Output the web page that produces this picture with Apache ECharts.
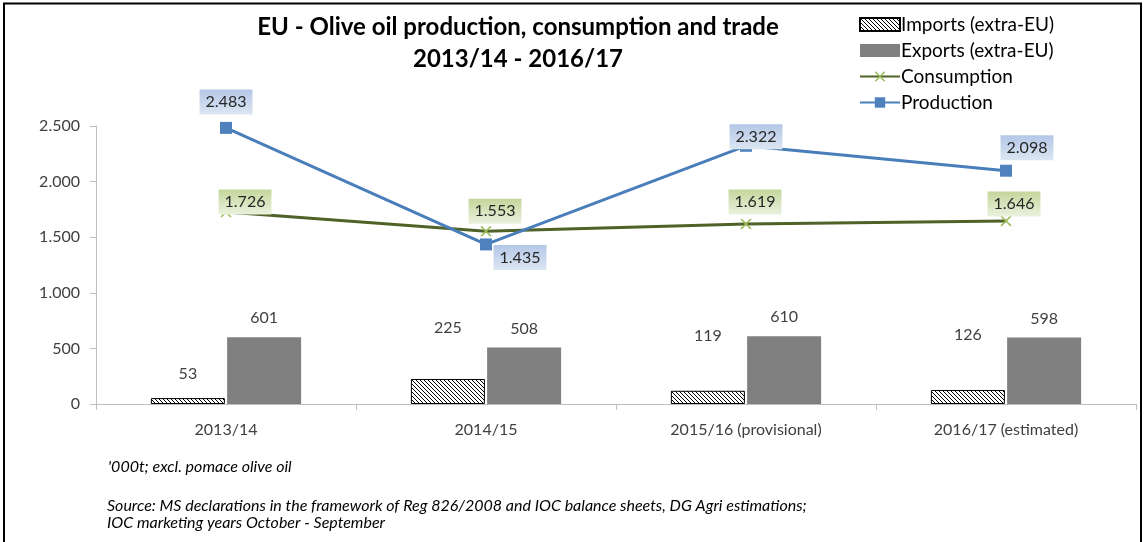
<!DOCTYPE html>
<html><head><meta charset="utf-8">
<script src="https://cdn.jsdelivr.net/npm/echarts@6/dist/echarts.min.js"></script>
<style>html,body{margin:0;padding:0;background:#fff}#c{width:1144px;height:542px}</style>
</head><body><div id="c"></div>
<script>
const categories = ['2013/14', '2014/15', '2015/16 (provisional)', '2016/17 (estimated)'];
const imports = [53, 225, 119, 126];
const exportsData = [601, 508, 610, 598];
const consumption = [1726, 1553, 1619, 1646];
const production = [2483, 1435, 2322, 2098];
const yTicks = [0, 500, 1000, 1500, 2000, 2500];

// label offsets (styling only)
const importLabelOffsets = [[0, -6], [0, -33], [0, -37], [0, -37]];
const prodLabelOffsets = [[0, -26], [34, 13], [10, -9], [21, -23]];
const consLabelOffsets = [[19, -10], [9, -20], [9, -22], [8, -17]];

const FONT = 'Lato';
const thousands = v => { const s = String(v); return s.length > 3 ? s.slice(0, -3) + '.' + s.slice(-3) : s; };

// hatch pattern
const pc = document.createElement('canvas'); pc.width = 4; pc.height = 4;
const ctx = pc.getContext('2d');
ctx.fillStyle = '#fff'; ctx.fillRect(0, 0, 4, 4);
ctx.strokeStyle = '#000'; ctx.lineWidth = 1;
ctx.beginPath();
ctx.moveTo(-1, -1); ctx.lineTo(5, 5);
ctx.moveTo(-1, 3); ctx.lineTo(1, 5);
ctx.moveTo(3, -1); ctx.lineTo(5, 1);
ctx.stroke();
const hatch = { image: pc, repeat: 'repeat' };

function boxGrad(top, bottom) {
  return { type: 'linear', x: 0, y: 0, x2: 0, y2: 1, colorStops: [{ offset: 0, color: top }, { offset: 1, color: bottom }] };
}
const xSymbol = 'path://M0,1L1,0L5,4L9,0L10,1L6,5L10,9L9,10L5,6L1,10L0,9L4,5Z';

const chart = echarts.init(document.getElementById('c'), null, { renderer: 'canvas' });
chart.setOption({
  animation: false,
  backgroundColor: '#fff',
  textStyle: { fontFamily: FONT },
  title: {
    text: 'EU - Olive oil production, consumption and trade\n2013/14 - 2016/17',
    left: 513, top: 6, textAlign: 'center',
    textStyle: { fontFamily: FONT, fontWeight: 'bold', fontSize: 24, color: '#000', lineHeight: 32 }
  },
  legend: {
    orient: 'vertical', left: 854, top: 10, itemGap: 7,
    itemWidth: 40, itemHeight: 13,
    textStyle: { fontFamily: FONT, fontSize: 19, color: '#000', padding: [0, 0, 0, -4] },
    data: [
      { name: 'Imports (extra-EU)', icon: 'rect' },
      { name: 'Exports (extra-EU)', icon: 'rect' },
      { name: 'Consumption' },
      { name: 'Production' }
    ]
  },
  grid: { left: 96, right: 8, top: 126, bottom: 138 },
  xAxis: {
    type: 'category', data: categories,
    axisLine: { lineStyle: { color: '#bfbfbf', width: 1 } },
    axisTick: { show: true, length: 6, lineStyle: { color: '#bfbfbf' } },
    axisLabel: { fontFamily: FONT, fontSize: 16, color: '#404040', margin: 18 }
  },
  yAxis: {
    type: 'value', min: yTicks[0], max: yTicks[yTicks.length - 1], interval: 500,
    axisLine: { show: true, lineStyle: { color: '#bfbfbf' } },
    axisTick: { show: true, length: 6, lineStyle: { color: '#bfbfbf' } },
    splitLine: { show: false },
    axisLabel: { fontFamily: FONT, fontSize: 16, color: '#404040', margin: 16, formatter: v => thousands(v) }
  },
  series: [
    {
      name: 'Imports (extra-EU)', type: 'bar', barWidth: 74, barGap: '3%',
      itemStyle: { color: hatch, borderColor: '#000', borderWidth: 1 },
      data: imports.map((v, i) => ({ value: v, label: { offset: importLabelOffsets[i] } })),
      label: { show: true, position: 'top', distance: 10, fontFamily: FONT, fontSize: 16, color: '#404040' },
      z: 2
    },
    {
      name: 'Exports (extra-EU)', type: 'bar', barWidth: 74,
      itemStyle: { color: '#808080' },
      data: exportsData,
      label: { show: true, position: 'top', distance: 11, fontFamily: FONT, fontSize: 16, color: '#404040' },
      z: 2
    },
    {
      name: 'Consumption', type: 'line',
      symbol: xSymbol, symbolSize: 11,
      itemStyle: { color: '#9bbb59' },
      lineStyle: { color: '#4f6228', width: 3 },
      data: consumption.map((v, i) => ({ value: v, label: { offset: consLabelOffsets[i] } })),
      label: {
        show: true, position: 'inside', fontFamily: FONT, fontSize: 16, color: '#262626',
        formatter: p => thousands(p.value),
        backgroundColor: boxGrad('#c3d69b', '#ebf1de'), padding: [5, 6, 4, 6]
      },
      z: 5
    },
    {
      name: 'Production', type: 'line',
      symbol: 'rect', symbolSize: 12,
      itemStyle: { color: '#4f81bd' },
      lineStyle: { color: '#4a7ebb', width: 3 },
      data: production.map((v, i) => ({ value: v, label: { offset: prodLabelOffsets[i] } })),
      label: {
        show: true, position: 'inside', fontFamily: FONT, fontSize: 16, color: '#262626',
        formatter: p => thousands(p.value),
        backgroundColor: boxGrad('#b4c7e7', '#dce6f2'), padding: [5, 6, 4, 6]
      },
      z: 6
    }
  ],
  graphic: [
    { type: 'rect', shape: { x: 4, y: 3.5, width: 1137, height: 560 }, style: { fill: 'none', stroke: '#000', lineWidth: 2 }, silent: true, z: 100 },
    { type: 'text', left: 108, top: 459, style: { text: "'000t; excl. pomace olive oil", font: 'italic 16px Lato', fill: '#000' } },
    { type: 'text', left: 107, top: 497, style: { text: 'Source: MS declarations in the framework of Reg 826/2008 and IOC balance sheets, DG Agri estimations;\nIOC marketing years October - September', font: 'italic 16px Lato', fill: '#000', lineHeight: 17 } }
  ]
});
</script></body></html>
